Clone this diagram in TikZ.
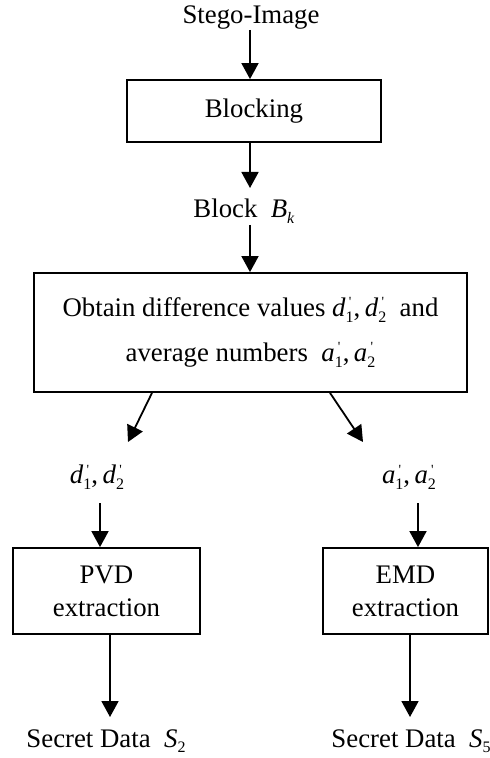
\documentclass[tikz,border=0pt]{standalone}
\usepackage{fontspec}
\setmainfont{Liberation Serif}
\usetikzlibrary{arrows.meta}

% italic variable with a straight prime over an upright subscript
\newcommand\pvar[2]{\textit{#1}\makebox[0pt][l]{\kern0.12em\raisebox{0.78ex}{\fontsize{7}{7}\selectfont\textquotesingle}}\raisebox{-0.45ex}{\fontsize{8}{8}\selectfont #2}}
% italic variable with a subscript
\newcommand\svar[2]{\textit{#1}\raisebox{-0.45ex}{\fontsize{8}{8}\selectfont #2}}

\tikzset{
  every node/.style={font=\fontsize{13.4}{16}\selectfont},
  procbox/.style={draw, line width=0.9pt, inner sep=0pt, align=center},
  lbl/.style={inner sep=0pt},
  arr/.style={line width=0.9pt, -{Triangle[length=8pt,width=8.5pt]}},
}

\begin{document}
\begin{tikzpicture}[x=0.5pt, y=-0.5pt]
  \useasboundingbox (0,0) rectangle (489,758);

  % top chain
  \node[lbl] (stego) at (251,18) {Stego-Image};
  \node[procbox, minimum width=127pt, minimum height=31pt] (blocking) at (254,111) {Blocking};
  \node[lbl] (block) at (244,211) {Block~~\svar{B}{\textit{k}}};
  \node[procbox, minimum width=216.5pt, minimum height=59.5pt,
        font=\fontsize{13.4}{22.5}\selectfont] (obtain) at (250.5,332.5)
    {Obtain difference values \pvar{d}{1},\,\pvar{d}{2}~~and\\
     average numbers~~\pvar{a}{1},\,\pvar{a}{2}};

  \coordinate (axis) at (250,0);
  \coordinate (s1) at (250,30);
  \coordinate (s3) at (250,225);

  \draw[arr] (s1) -- (s1 |- blocking.north);
  \draw[arr] (blocking.south -| axis) -- (250,188);
  \draw[arr] (s3) -- (s3 |- obtain.north);

  % two branches
  \node[lbl] (dl) at (97,477) {\pvar{d}{1},\,\pvar{d}{2}};
  \node[lbl] (al) at (409,477) {\pvar{a}{1},\,\pvar{a}{2}};

  \coordinate (dtip) at (128,442);
  \coordinate (atip) at (363,442);
  \draw[arr] (obtain.south -| 152,0) -- (dtip);
  \draw[arr] (obtain.south -| 330,0) -- (atip);

  \node[procbox, minimum width=93.5pt, minimum height=43pt,
        font=\fontsize{13.4}{16.5}\selectfont] (pvd) at (106.5,591) {PVD\\extraction};
  \node[procbox, minimum width=82.5pt, minimum height=43pt,
        font=\fontsize{13.4}{16.5}\selectfont] (emd) at (405.5,591) {EMD\\extraction};

  \coordinate (dstart) at (100,503);
  \coordinate (astart) at (418,503);
  \draw[arr] (dstart) -- (dstart |- pvd.north);
  \draw[arr] (astart) -- (astart |- emd.north);

  \node[lbl] (s2) at (106,741) {Secret Data~~\svar{S}{2}};
  \node[lbl] (s5) at (411,741) {Secret Data~~\svar{S}{5}};

  \coordinate (ptip) at (110,717);
  \coordinate (etip) at (410,717);
  \draw[arr] (pvd.south -| ptip) -- (ptip);
  \draw[arr] (emd.south -| etip) -- (etip);
\end{tikzpicture}
\end{document}
